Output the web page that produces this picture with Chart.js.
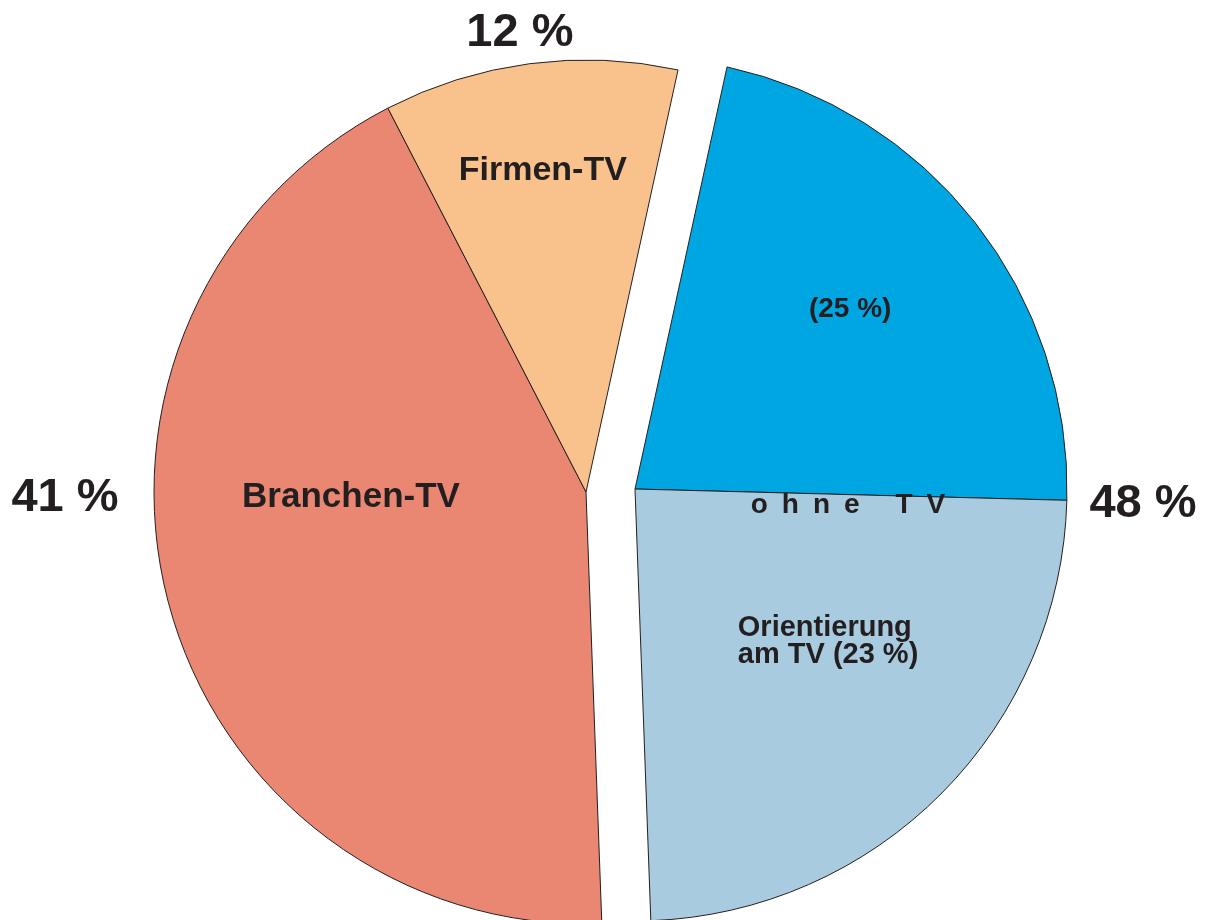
<!DOCTYPE html>
<html>
<head>
<meta charset="utf-8">
<script src="https://cdn.jsdelivr.net/npm/chart.js@4/dist/chart.umd.min.js"></script>
<style>
  html, body { margin: 0; padding: 0; background: #fff; overflow: hidden; }
  #wrap { width: 1211px; height: 920px; }
</style>
</head>
<body>
<div id="wrap"><canvas id="myChart"></canvas></div>
<script>
// slices, clockwise from the top split line
const categories = ["ohne TV", "Orientierung am TV", "Branchen-TV", "Firmen-TV"];
const shares = [22, 24, 43, 11];              // slice sizes as drawn
const percentLabels = ["(25 %)", "(23 %)", "41 %", "12 %"];
const groupOf = [1, 1, 0, 0];                 // 0 = mit TV, 1 = ohne TV (pulled out)
const groupTotals = ["53 %", "48 %"];
const colors = ["#00a6e2", "#a8cbdf", "#e98773", "#f9c28d"];

const ink = "#231f20";
const groupShift = [{ x: -24.5, y: 1.5 }, { x: 24.5, y: -1.5 }];

// text placed relative to the arc centre, in fractions of the radius
const labels = [
  { text: percentLabels[3], group: 0, fx: -0.153, fy: -1.032, size: 47 },
  { text: percentLabels[2], group: 0, fx: -1.206, fy: 0.044, size: 47 },
  { text: groupTotals[1], group: 1, fx: 1.176, fy: 0.065, size: 47 },
  { text: categories[3], group: 0, fx: -0.100, fy: -0.722, size: 34 },
  { text: categories[2], group: 0, fx: -0.544, fy: 0.035, size: 35 },
  { text: percentLabels[0], group: 1, fx: 0.498, fy: -0.398, size: 28 },
  { text: "ohne TV", group: 1, fx: 0.493, fy: 0.056, size: 28, spacing: 14 },
  { text: "Orientierung", group: 1, fx: 0.238, fy: 0.340, size: 29, align: "left" },
  { text: "am TV " + percentLabels[1], group: 1, fx: 0.238, fy: 0.403, size: 29, align: "left" }
];

const shiftArcs = {
  id: "shiftArcs",
  afterUpdate(chart) {
    chart.getDatasetMeta(0).data.forEach((arc, i) => {
      if (arc._shifted) return;
      const draw = arc.draw;
      arc.draw = function (ctx) {
        const s = groupShift[groupOf[i]];
        ctx.save();
        ctx.translate(s.x, s.y);
        draw.call(this, ctx);
        ctx.restore();
      };
      arc._shifted = true;
    });
  }
};

const pieText = {
  id: "pieText",
  afterDraw(chart) {
    const arc = chart.getDatasetMeta(0).data[0];
    const r = arc.outerRadius;
    const ctx = chart.ctx;
    ctx.save();
    ctx.fillStyle = ink;
    ctx.textBaseline = "alphabetic";
    labels.forEach(l => {
      const s = groupShift[l.group];
      const x = arc.x + s.x + l.fx * r;
      const y = arc.y + s.y + l.fy * r;
      ctx.font = "bold " + l.size + "px 'Liberation Sans', Arial, sans-serif";
      if (l.spacing) {
        ctx.letterSpacing = l.spacing + "px";
        const w = ctx.measureText(l.text).width - l.spacing;
        ctx.textAlign = "left";
        ctx.fillText(l.text, x - w / 2, y);
        ctx.letterSpacing = "0px";
      } else {
        ctx.textAlign = l.align || "center";
        ctx.fillText(l.text, x, y);
      }
    });
    ctx.restore();
  }
};

new Chart(document.getElementById("myChart"), {
  type: "pie",
  data: {
    labels: categories,
    datasets: [{
      data: shares,
      backgroundColor: colors,
      borderColor: ink,
      borderWidth: 1,
      clip: false
    }]
  },
  options: {
    responsive: true,
    maintainAspectRatio: false,
    animation: false,
    rotation: 12.3,
    radius: 432,
    layout: { padding: { left: 10, top: 61, right: 0, bottom: 0 } },
    plugins: {
      legend: { display: false },
      tooltip: { enabled: false }
    }
  },
  plugins: [shiftArcs, pieText]
});
</script>
</body>
</html>
